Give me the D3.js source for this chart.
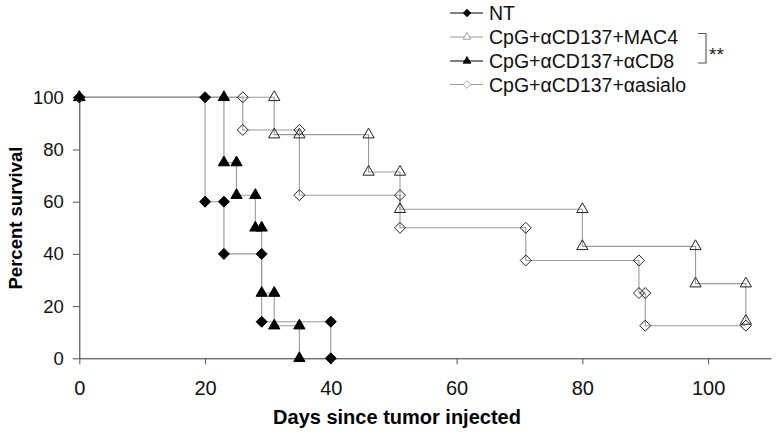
<html>
<head>
<script src="https://d3js.org/d3.v7.min.js"></script>
<style>
  body { margin: 0; background: #fff; }
  text { font-family: Arial, "Liberation Sans", sans-serif; }
</style>
</head>
<body>
</body>
<script>
    // survival steps (day, percent) - each drop has a point at top and bottom
    let seriesNames = ["NT", "CpG+\u03b1CD137+MAC4", "CpG+\u03b1CD137+\u03b1CD8", "CpG+\u03b1CD137+\u03b1asialo"];

    let ntDays = [0, 20, 20, 23, 23, 29, 29, 40, 40];
    let ntPct  = [100, 100, 60, 60, 40, 40, 14, 14, 0];

    let mac4Days = [0, 31, 31, 35, 46, 46, 51, 51, 80, 80, 98, 98, 106, 106];
    let mac4Pct  = [100, 100, 85.7, 85.7, 85.7, 71.4, 71.4, 57.1, 57.1, 42.9, 42.9, 28.6, 28.6, 14.3];

    let cd8Days = [0, 23, 23, 25, 25, 28, 28, 29, 29, 31, 31, 35, 35];
    let cd8Pct  = [100, 100, 75, 75, 62.5, 62.5, 50, 50, 25, 25, 12.5, 12.5, 0];

    let asialoDays = [0, 26, 26, 35, 35, 51, 51, 71, 71, 89, 89, 90, 90, 106];
    let asialoPct  = [100, 100, 87.5, 87.5, 62.5, 62.5, 50, 50, 37.5, 37.5, 25, 25, 12.5, 12.5];

    let xTicks = [0, 20, 40, 60, 80, 100];
    let yTicks = [0, 20, 40, 60, 80, 100];

    let width = 776;
    let height = 441;

    let svg = d3.select("body").append("svg")
        .attr("width", width)
        .attr("height", height);

    let x = d3.scaleLinear().domain([0, 110]).range([79.3, 771]);
    let y = d3.scaleLinear().domain([0, 100]).range([358.3, 97.3]);

    // axes
    let xAxis = svg.append("g")
        .attr("transform", "translate(0," + y(0) + ")")
        .call(d3.axisBottom(x).tickValues(xTicks).tickSize(6).tickSizeOuter(0));
    xAxis.select(".domain").attr("stroke", "#333");
    xAxis.selectAll(".tick line").attr("stroke", "#555");
    xAxis.selectAll(".tick text")
        .attr("y", 37).attr("dy", 0)
        .attr("fill", "#111")
        .style("font-size", "20px");

    let yAxis = svg.append("g")
        .attr("transform", "translate(" + x(0) + ",0)")
        .call(d3.axisLeft(y).tickValues(yTicks).tickSize(6.5).tickSizeOuter(0).tickPadding(9));
    yAxis.select(".domain").attr("stroke", "#333");
    yAxis.selectAll(".tick line").attr("stroke", "#555");
    yAxis.selectAll(".tick text")
        .attr("fill", "#111")
        .style("font-size", "18.5px");

    svg.append("text")
        .attr("x", 397).attr("y", 424)
        .attr("text-anchor", "middle")
        .style("font-size", "20px").style("font-weight", "bold")
        .text("Days since tumor injected");

    svg.append("text")
        .attr("transform", "translate(22,218) rotate(-90)")
        .attr("text-anchor", "middle")
        .style("font-size", "18.5px").style("font-weight", "bold")
        .text("Percent survival");

    // markers
    function diamond(r) {
        return "M0," + (-r) + "L" + r + ",0L0," + r + "L" + (-r) + ",0Z";
    }
    let styles = [
        {shape: "diamond", fill: "#000", stroke: "#000", legendLine: "#000"},
        {shape: "triangle", fill: "none", stroke: "#222", legendLine: "#999"},
        {shape: "triangle", fill: "#000", stroke: "#000", legendLine: "#000"},
        {shape: "diamond", fill: "none", stroke: "#222", legendLine: "#999"}
    ];
    function markerPath(shape, big) {
        if (shape == "diamond") return diamond(big ? 5.5 : 3.8);
        return d3.symbol().type(d3.symbolTriangle).size(big ? 55 : 26)();
    }

    let allSeries = [
        ntDays.map((d, i) => ({day: d, pct: ntPct[i]})),
        mac4Days.map((d, i) => ({day: d, pct: mac4Pct[i]})),
        cd8Days.map((d, i) => ({day: d, pct: cd8Pct[i]})),
        asialoDays.map((d, i) => ({day: d, pct: asialoPct[i]}))
    ];

    let line = d3.line()
        .x(d => x(d.day))
        .y(d => y(d.pct));

    allSeries.forEach((pts, s) => {
        svg.append("path")
            .datum(pts)
            .attr("d", line)
            .attr("fill", "none")
            .attr("stroke", "#9a9a9a")
            .attr("stroke-width", 1.1);
    });
    allSeries.forEach((pts, s) => {
        svg.append("g").selectAll("path")
            .data(pts)
            .join("path")
            .attr("transform", d => "translate(" + x(d.day) + "," + y(d.pct) + ")")
            .attr("d", markerPath(styles[s].shape, true))
            .attr("fill", styles[s].fill)
            .attr("stroke", styles[s].stroke)
            .attr("stroke-width", 1);
    });

    // legend
    let legendY = [13, 37, 61, 84.5];
    let legend = svg.append("g");
    seriesNames.forEach((name, i) => {
        legend.append("line")
            .attr("x1", 450).attr("x2", 483)
            .attr("y1", legendY[i]).attr("y2", legendY[i])
            .attr("stroke", styles[i].legendLine)
            .attr("stroke-width", 1.2);
        legend.append("path")
            .attr("transform", "translate(467," + legendY[i] + ")")
            .attr("d", markerPath(styles[i].shape, false))
            .attr("fill", styles[i].fill == "none" ? "#fff" : styles[i].fill)
            .attr("stroke", styles[i].fill == "none" ? "#888" : "#000")
            .attr("stroke-width", 0.8);
        legend.append("text")
            .attr("x", 489).attr("y", legendY[i] + 7)
            .style("font-size", "19.5px")
            .attr("fill", "#111")
            .text(name);
    });

    // significance bracket between MAC4 and CD8
    svg.append("path")
        .attr("d", "M698,33.5H706V63H698")
        .attr("fill", "none")
        .attr("stroke", "#555")
        .attr("stroke-width", 1.1);
    svg.append("text")
        .attr("x", 709).attr("y", 61)
        .style("font-size", "19px")
        .attr("fill", "#222")
        .text("**");
</script>
</html>
